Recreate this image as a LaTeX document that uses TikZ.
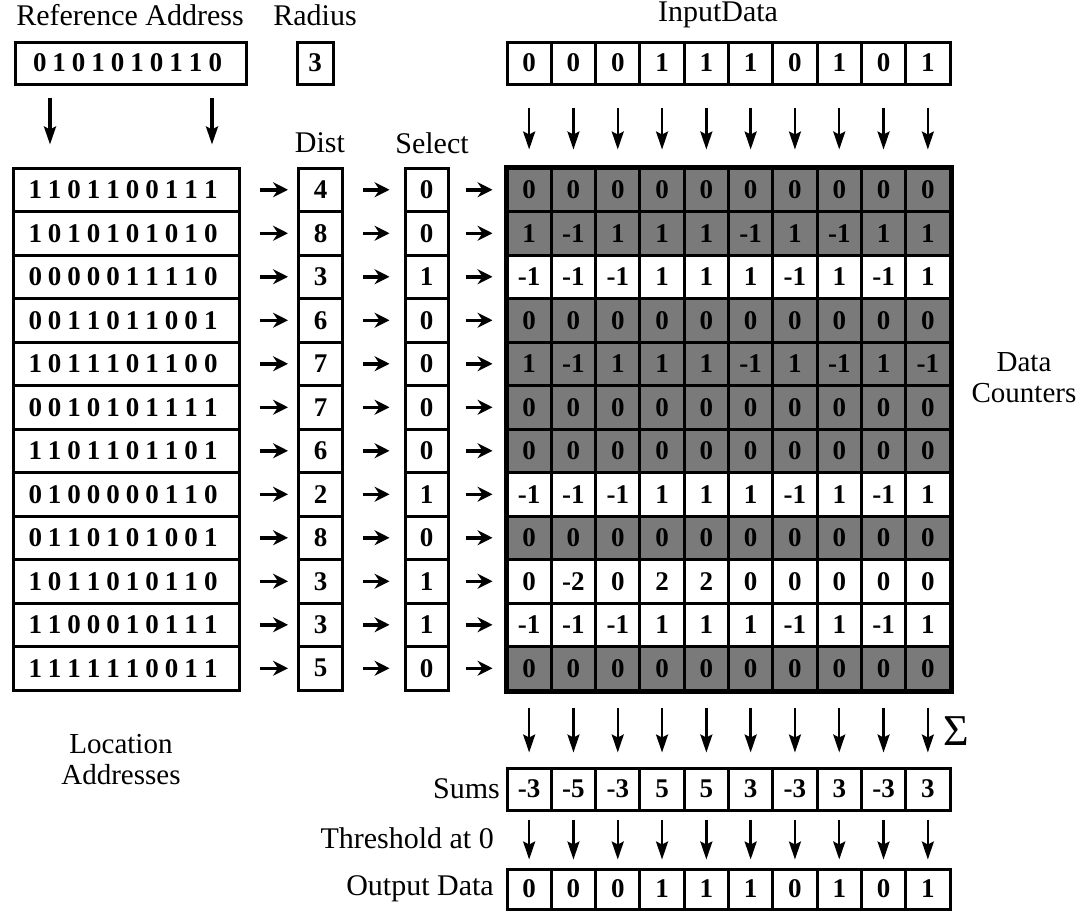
\documentclass[tikz,border=0pt]{standalone}
\usepackage{fontspec}
\setmainfont{Liberation Serif}
\usetikzlibrary{arrows.meta,calc}
\newcommand\bits[1]{\bitsaux#1\relax\hspace{-6pt}}
\def\bitsaux#1{\ifx#1\relax\else#1\hspace{6pt}\expandafter\bitsaux\fi}
\def\gx{507}
\def\cw{44.3}
\tikzset{
  lbl/.style={font=\fontsize{30}{32}\selectfont, inner sep=0pt},
  num/.style={font=\fontsize{27}{29}\selectfont\bfseries},
  box/.style={draw, line width=3pt, inner sep=0pt},
  cellw/.style={box, minimum width=\cw pt, minimum height=43.5pt, num},
  shade/.style={fill=black!52},
  plain/.style={fill=white},
  rarr/.style={line width=3.5pt, -{Stealth[length=15pt,width=15pt,inset=5pt]}},
  darr/.style={line width=2.4pt, -{Stealth[length=18pt,width=12pt,inset=3pt]}}
}
% grid row: #1 row index, #2 style, #3 values
\newcommand\crow[3]{%
  \foreach \v [count=\c] in {#3} {%
    \node[cellw, #2] (g#1-\c) at ({\gx+\cw*(\c-0.5)}, {168+43.5*(#1-0.5)}) {\v};
  }%
}
% left row: #1 index, #2 bits, #3 dist, #4 select
\newcommand\lrow[4]{%
  \node[box, minimum width=226pt, minimum height=43.5pt, num] (loc#1) at (126, {168+43.5*(#1-0.5)}) {\bits{#2}};
  \node[box, minimum width=44pt, minimum height=43.5pt, num] (dist#1) at (320.5, {168+43.5*(#1-0.5)}) {#3};
  \node[box, minimum width=43pt, minimum height=43.5pt, num] (sel#1) at (426.5, {168+43.5*(#1-0.5)}) {#4};
  \draw[rarr, shorten <=19pt, shorten >=9pt] (loc#1) -- (dist#1);
  \draw[rarr, shorten <=19pt, shorten >=14pt] (dist#1) -- (sel#1);
  \draw[rarr, shorten <=16pt, shorten >=13pt] (sel#1) -- (g#1-1);
}
\begin{document}
\begin{tikzpicture}[x=1pt,y=-1pt]
\useasboundingbox (0,0) rectangle (1084,921);
% top labels
\node[lbl] (reflbl) at (130,15) {Reference Address};
\node[lbl] (radlbl) at (315,15) {Radius};
\node[lbl] (inlbl) at (718,15) {InputData};
\node[lbl] (distlbl) at (320,143) {Dist};
\node[lbl] (sellbl) at (432,143) {Select};
% reference address and radius
\node[box, minimum width=231pt, minimum height=42pt, num] (refaddr) at (130.5,63) {\bits{0101010110}};
\node[box, minimum width=36pt, minimum height=42pt, num] (radius) at (315,63) {3};
% input data
\foreach \v [count=\c] in {0,0,0,1,1,1,0,1,0,1} {
  \node[cellw, minimum height=42pt] (in\c) at ({\gx+\cw*(\c-0.5)}, 63) {\v};
}
% grid
\crow{1}{shade}{0,0,0,0,0,0,0,0,0,0}
\crow{2}{shade}{1,-1,1,1,1,-1,1,-1,1,1}
\crow{3}{plain}{-1,-1,-1,1,1,1,-1,1,-1,1}
\crow{4}{shade}{0,0,0,0,0,0,0,0,0,0}
\crow{5}{shade}{1,-1,1,1,1,-1,1,-1,1,-1}
\crow{6}{shade}{0,0,0,0,0,0,0,0,0,0}
\crow{7}{shade}{0,0,0,0,0,0,0,0,0,0}
\crow{8}{plain}{-1,-1,-1,1,1,1,-1,1,-1,1}
\crow{9}{shade}{0,0,0,0,0,0,0,0,0,0}
\crow{10}{plain}{0,-2,0,2,2,0,0,0,0,0}
\crow{11}{plain}{-1,-1,-1,1,1,1,-1,1,-1,1}
\crow{12}{shade}{0,0,0,0,0,0,0,0,0,0}
\draw[line width=4pt] (g1-1.north west) rectangle (g12-10.south east);
% left columns
\lrow{1}{1101100111}{4}{0}
\lrow{2}{1010101010}{8}{0}
\lrow{3}{0000011110}{3}{1}
\lrow{4}{0011011001}{6}{0}
\lrow{5}{1011101100}{7}{0}
\lrow{6}{0010101111}{7}{0}
\lrow{7}{1101101101}{6}{0}
\lrow{8}{0100000110}{2}{1}
\lrow{9}{0110101001}{8}{0}
\lrow{10}{1011010110}{3}{1}
\lrow{11}{1100010111}{3}{1}
\lrow{12}{1111110011}{5}{0}
% reference address arrows
\coordinate (a1) at (50,0);
\coordinate (a2) at (212,0);
\draw[darr, line width=3.2pt, shorten <=12pt, shorten >=22pt] (refaddr.south -| a1) -- (loc1.north -| a1);
\draw[darr, line width=3.2pt, shorten <=12pt, shorten >=22pt] (refaddr.south -| a2) -- (loc1.north -| a2);
% sums and output
\node[lbl, anchor=east] (sumlbl) at (500,789) {Sums};
\node[lbl, anchor=east] (thrlbl) at (494,838) {Threshold at 0};
\node[lbl, anchor=east] (outlbl) at (494,889) {Output Data};
\foreach \v [count=\c] in {-3,-5,-3,5,5,3,-3,3,-3,3} {
  \node[cellw, minimum height=42pt] (sum\c) at ({\gx+\cw*(\c-0.5)}, 789) {\v};
}
\foreach \v [count=\c] in {0,0,0,1,1,1,0,1,0,1} {
  \node[cellw, minimum height=40pt] (out\c) at ({\gx+\cw*(\c-0.5)}, 889) {\v};
}
\foreach \c in {1,...,10} {
  \draw[darr, shorten <=22pt, shorten >=17pt] (in\c) -- (g1-\c);
  \draw[darr, shorten <=16pt, shorten >=14pt] (g12-\c) -- (sum\c);
  \draw[darr, shorten <=8pt, shorten >=8pt] (sum\c) -- (out\c);
}
\node[lbl, font=\fontsize{44}{46}\selectfont] (sigma) at (956,731) {Σ};
% side labels
\node[lbl, align=center, font=\fontsize{29}{31}\selectfont] (dclbl) at (1024,378) {Data\\Counters};
\node[lbl, align=center, font=\fontsize{29}{31}\selectfont] (lalbl) at (121,760) {Location\\Addresses};
\end{tikzpicture}
\end{document}
